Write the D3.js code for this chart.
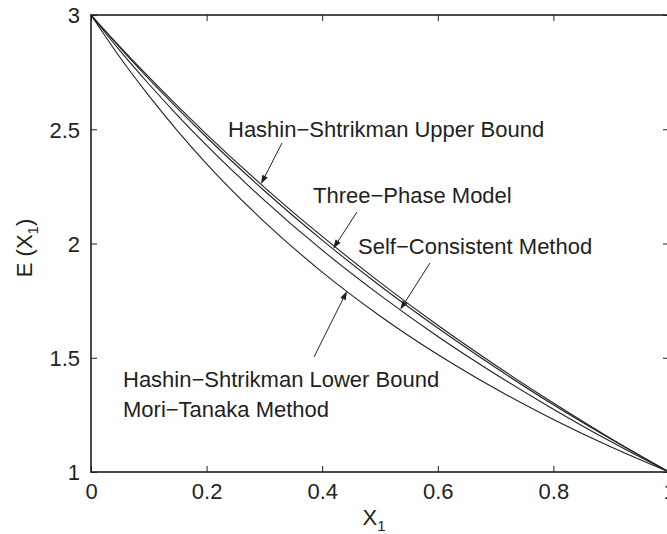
<!DOCTYPE html>
<html>
<head>
<meta charset="utf-8">
<script src="https://cdn.jsdelivr.net/npm/d3@7"></script>
<style>
  body { margin: 0; background: #fff; }
  text { font-family: "Liberation Sans", Arial, Helvetica, sans-serif; fill: #231f20; }
</style>
</head>
<body>
<svg id="chart" width="667" height="534"></svg>
<script>
// Volume fraction of phase 1 and the effective modulus from each model
const volumeFraction = [0, 0.05, 0.1, 0.15, 0.2, 0.3, 0.4, 0.5, 0.6, 0.7, 0.8, 0.9, 1];
const hsUpper        = [3, 2.862, 2.729, 2.601, 2.478, 2.246, 2.031, 1.830, 1.642, 1.467, 1.302, 1.146, 1];
const threePhase     = [3, 2.857, 2.720, 2.590, 2.465, 2.231, 2.015, 1.815, 1.630, 1.457, 1.294, 1.143, 1];
const selfConsistent = [3, 2.844, 2.698, 2.560, 2.429, 2.189, 1.971, 1.774, 1.593, 1.428, 1.275, 1.132, 1];
const hsLower        = [3, 2.815, 2.647, 2.492, 2.349, 2.095, 1.875, 1.683, 1.514, 1.364, 1.230, 1.109, 1];

const xTicks = [0, 0.2, 0.4, 0.6, 0.8, 1];
const xTickLabels = ["0", "0.2", "0.4", "0.6", "0.8", "1"];
const yTicks = [1, 1.5, 2, 2.5, 3];
const yTickLabels = ["1", "1.5", "2", "2.5", "3"];

// Callouts: label lines, the curve each arrow points at, and the X1 of the arrow tip
const calloutLabels = [
  ["Hashin\u2212Shtrikman Upper Bound"],
  ["Three\u2212Phase Model"],
  ["Self\u2212Consistent Method"],
  ["Hashin\u2212Shtrikman Lower Bound", "Mori\u2212Tanaka Method"]
];
const calloutCurves = [hsUpper, threePhase, selfConsistent, hsLower];
const calloutTipX = [0.294, 0.419, 0.535, 0.443];

// ---- layout ----
const plot = { left: 91, right: 669, top: 15, bottom: 472 };
const ink = "#231f20";
const fontSize = 22;
const tickLen = 6;
const calloutLayout = [
  { textX: 228, textY: 137, lineGap: 0, tail: [282, 143] },
  { textX: 313, textY: 203, lineGap: 0, tail: [357, 212] },
  { textX: 358, textY: 254, lineGap: 0, tail: [430, 263] },
  { textX: 123, textY: 387, lineGap: 30, tail: [314, 357] }
];

const svg = d3.select("#chart");

const x = d3.scaleLinear().domain([0, 1]).range([plot.left, plot.right]);
const y = d3.scaleLinear().domain([1, 3]).range([plot.bottom, plot.top]);

// Curves
const series = [hsUpper, threePhase, selfConsistent, hsLower];
const line = d3.line()
  .x((d, i) => x(volumeFraction[i]))
  .y(d => y(d))
  .curve(d3.curveMonotoneX);

svg.append("g")
  .selectAll("path")
  .data(series)
  .join("path")
  .attr("d", d => line(d))
  .attr("fill", "none")
  .attr("stroke", ink)
  .attr("stroke-width", 1.1);

// Axes with inward ticks on all four sides
const axisStyle = g => {
  g.select(".domain").remove();
  g.selectAll(".tick line").attr("stroke", ink).attr("stroke-width", 1);
  g.selectAll(".tick text").attr("font-size", fontSize).attr("fill", ink)
    .attr("font-family", "Liberation Sans, Arial, sans-serif");
};

svg.append("g")
  .attr("transform", `translate(0,${plot.bottom})`)
  .call(d3.axisBottom(x).tickValues(xTicks).tickSizeInner(-tickLen).tickSizeOuter(0)
    .tickPadding(tickLen + 5).tickFormat((d, i) => xTickLabels[i]))
  .call(axisStyle)
  .call(g => g.selectAll(".tick text").attr("dy", "0.71em"));

svg.append("g")
  .attr("transform", `translate(${plot.left},0)`)
  .call(d3.axisLeft(y).tickValues(yTicks).tickSizeInner(-tickLen).tickSizeOuter(0)
    .tickPadding(tickLen + 5).tickFormat((d, i) => yTickLabels[i]))
  .call(axisStyle)
  .call(g => g.selectAll(".tick text").attr("dy", "0.36em"));

svg.append("g")
  .attr("transform", `translate(0,${plot.top})`)
  .call(d3.axisTop(x).tickValues(xTicks).tickSizeInner(-tickLen).tickSizeOuter(0).tickFormat(""))
  .call(axisStyle);

svg.append("g")
  .attr("transform", `translate(${plot.right},0)`)
  .call(d3.axisRight(y).tickValues(yTicks).tickSizeInner(-tickLen).tickSizeOuter(0).tickFormat(""))
  .call(axisStyle);

// Plot frame
svg.append("rect")
  .attr("x", plot.left).attr("y", plot.top)
  .attr("width", plot.right - plot.left).attr("height", plot.bottom - plot.top)
  .attr("fill", "none").attr("stroke", ink).attr("stroke-width", 1.6);

// Axis titles
const xTitle = svg.append("text")
  .attr("x", 374).attr("y", 525)
  .attr("text-anchor", "middle")
  .attr("font-size", fontSize);
xTitle.append("tspan").text("X");
xTitle.append("tspan").attr("font-size", 15).attr("dy", 6).text("1");

const yTitle = svg.append("text")
  .attr("transform", "translate(32,248) rotate(-90)")
  .attr("text-anchor", "middle")
  .attr("font-size", fontSize);
yTitle.append("tspan").text("E (X");
yTitle.append("tspan").attr("font-size", 15).attr("dy", 6).text("1");
yTitle.append("tspan").attr("dy", -6).text(")");

// Callouts with arrows pointing onto the curves
const interpAt = (curve, xv) => {
  for (let i = 1; i < volumeFraction.length; i++) {
    if (xv <= volumeFraction[i]) {
      const t = (xv - volumeFraction[i - 1]) / (volumeFraction[i] - volumeFraction[i - 1]);
      return curve[i - 1] + t * (curve[i] - curve[i - 1]);
    }
  }
  return curve[curve.length - 1];
};

const callouts = svg.append("g");
calloutLabels.forEach((lines, k) => {
  const lay = calloutLayout[k];
  lines.forEach((txt, j) => {
    callouts.append("text")
      .attr("x", lay.textX)
      .attr("y", lay.textY + j * lay.lineGap)
      .attr("font-size", fontSize)
      .text(txt);
  });

  const tx = x(calloutTipX[k]);
  const ty = y(interpAt(calloutCurves[k], calloutTipX[k]));
  const [sx, sy] = lay.tail;
  const ang = Math.atan2(ty - sy, tx - sx);
  const headLen = 9, headHalf = 3;
  const bx = tx - headLen * Math.cos(ang), by = ty - headLen * Math.sin(ang);

  callouts.append("line")
    .attr("x1", sx).attr("y1", sy).attr("x2", bx).attr("y2", by)
    .attr("stroke", ink).attr("stroke-width", 1);
  callouts.append("path")
    .attr("d", d3.line()([
      [tx, ty],
      [bx + headHalf * Math.sin(ang), by - headHalf * Math.cos(ang)],
      [bx - headHalf * Math.sin(ang), by + headHalf * Math.cos(ang)]
    ]) + "Z")
    .attr("fill", ink);
});
</script>
</body>
</html>
